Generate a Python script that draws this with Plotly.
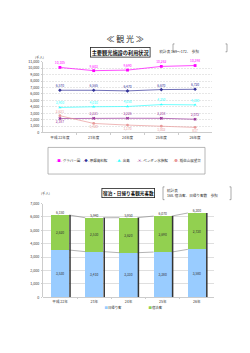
import plotly.graph_objects as go

# ---------------- data ----------------
years_top = ["平成 22年度", "23年度", "24年度", "25年度", "26年度"]
series_names = ["グラバー園", "原爆資料館", "出島", "ペンギン水族館", "稲佐山展望台"]
glover = [10105, 9603, 9690, 10262, 10398]
atomic = [6570, 6565, 6470, 6670, 6720]
dejima = [3900, 4010, 4050, 4350, 4300]
penguin = [2187, 2221, 2226, 2218, 2072]
inasa = [2621, 1420, 1170, 1002, 817]

years_bot = ["平成 22年", "23年", "24年", "25年", "26年"]
daytrip = [3530, 3410, 3330, 3380, 3580]
overnight = [2620, 2530, 2620, 2690, 2720]

# ---------------- helpers ----------------
W, H = 250, 353
S = 2  # render at 2x, then scale the page down (keeps tiny text tiny)
def px(x):
    return x / W
def py(y):
    return 1 - y / H
def f(sz):
    return sz * S

FONT = "Noto Sans CJK JP"
fig = go.Figure()

# ---------------- top line chart ----------------
top_series = [glover, atomic, dejima, penguin, inasa]
colors = ["#FF00FF", "#333399", "#33FFFF", "#993399", "#E89A9A"]
symbols = ["square", "diamond", "triangle-up", "x", "circle"]
positions = [
    ["top center"] * 5,
    ["top center"] * 5,
    ["top center"] * 5,
    ["bottom center"] + ["top center"] * 4,
    ["top center"] + ["bottom center"] * 4,
]
xi = list(range(len(years_top)))
for name, vals, c, s, pos in zip(series_names, top_series, colors, symbols, positions):
    fig.add_trace(go.Scatter(
        x=xi, y=vals, name=name, mode="lines+markers+text",
        line=dict(color=c, width=f(0.7)),
        marker=dict(color=c, symbol=s, size=f(2.8)),
        text=[f"{v:,}" for v in vals], textposition=pos,
        textfont=dict(size=f(3.3), color=c, family=FONT),
        xaxis="x", yaxis="y", showlegend=False, cliponaxis=False,
    ))

# ---------------- bottom stacked bars ----------------
bw = 0.53
totals = [a + b for a, b in zip(daytrip, overnight)]
for vals, name, col in [(daytrip, "日帰り客", "#99CCFF"), (overnight, "宿泊客", "#92D050")]:
    fig.add_trace(go.Bar(
        x=xi, y=vals, name=name, marker=dict(color=col, line=dict(width=0)),
        width=bw, text=[f"{v:,}" for v in vals], textposition="inside",
        insidetextanchor="middle", textangle=0,
        textfont=dict(size=f(3.3), color="#333333", family=FONT),
        xaxis="x2", yaxis="y2", showlegend=False,
    ))
# connector lines between stacks
for level in (daytrip, totals):
    cx, cy = [], []
    for i in range(len(xi) - 1):
        cx += [xi[i] + bw / 2, xi[i + 1] - bw / 2, None]
        cy += [level[i], level[i + 1], None]
    fig.add_trace(go.Scatter(x=cx, y=cy, mode="lines", line=dict(color="#808080", width=f(0.6)),
                             xaxis="x2", yaxis="y2", showlegend=False, hoverinfo="skip"))
# dark right edge of each bar
sx, sy = [], []
for i, t in zip(xi, totals):
    sx += [i + bw / 2 + 0.025, i + bw / 2 + 0.025, None]
    sy += [0, t, None]
fig.add_trace(go.Scatter(x=sx, y=sy, mode="lines", line=dict(color="#333333", width=f(1.5)),
                         xaxis="x2", yaxis="y2", showlegend=False, hoverinfo="skip"))
# totals above bars
fig.add_trace(go.Scatter(
    x=xi, y=totals, mode="text", text=[f"{v:,}" for v in totals],
    textposition="top center", textfont=dict(size=f(3.3), color="#333333", family=FONT),
    xaxis="x2", yaxis="y2", showlegend=False, cliponaxis=False,
))

# ---------------- layout ----------------
axis_font = dict(size=f(3.6), color="#333333", family=FONT)
common_x = dict(range=[-0.5, 4.5], tickmode="array", tickvals=xi, tickfont=axis_font,
                showgrid=False, showline=True, linecolor="#999999", linewidth=f(0.7),
                ticks="", zeroline=False, ticklabelstandoff=f(1),
                minor=dict(tickvals=[0.5, 1.5, 2.5, 3.5], ticks="outside", ticklen=f(1.5),
                           tickcolor="#999999", tickwidth=f(0.6)))
common_y = dict(tickformat=",", tickfont=axis_font, showgrid=True, showline=True,
                linecolor="#999999", linewidth=f(0.7), ticks="outside", ticklen=f(1.5),
                tickcolor="#999999", tickwidth=f(0.6), zeroline=False,
                ticklabelstandoff=f(1))
fig.update_layout(
    width=W * S, height=H * S, margin=dict(l=0, r=0, t=0, b=0),
    paper_bgcolor="white", plot_bgcolor="white",
    font=dict(family=FONT, size=f(4), color="#333333"),
    barmode="stack", showlegend=False,
    xaxis=dict(domain=[px(43), px(212)], anchor="y", ticktext=years_top, **common_x),
    yaxis=dict(domain=[py(132), py(60)], anchor="x", range=[0, 11000], dtick=1000,
               gridcolor="#D0D0D0", griddash="dot", gridwidth=f(0.5), **common_y),
    xaxis2=dict(domain=[px(43), px(214)], anchor="y2", ticktext=years_bot, **common_x),
    yaxis2=dict(domain=[py(299), py(204)], anchor="x2", range=[0, 7000], dtick=1000,
                gridcolor="#BFBFBF", gridwidth=f(0.7), **common_y),
)

ann = []
def note(x, y, text, size, **kw):
    d = dict(x=px(x), y=py(y), xref="paper", yref="paper", text=text, showarrow=False,
             font=dict(size=f(size), color=kw.pop("color", "#333333"), family=FONT))
    d.update(kw)
    ann.append(d)

note(125, 29, "≪ 観 光 ≫", 8)
note(120, 45, "<b>主要観光施設の利用状況</b>", 5.2, color="#111111",
     bordercolor="#222222", borderwidth=f(0.8), borderpad=f(0.8), bgcolor="white")
note(128, 193, "<b>宿泊・日帰り客観光客数</b>", 4.6, color="#111111",
     bordercolor="#222222", borderwidth=f(0.8), borderpad=f(0.8), bgcolor="white")
note(200, 46, "統計表 169〜172、  参照", 3.6)
note(166, 193, "統計表<br>168. 宿泊客、日帰り客数　参照", 3.6, xanchor="left", align="left")
note(34, 52, "(千人)", 3.3)
note(40, 193, "(千人)", 3.3)
# top legend entries
leg_x = [55, 82, 115, 136, 172]
sym_chars = ["■", "◆", "▲", "✕", "●"]
for lx, name, c, ch in zip(leg_x, series_names, colors, sym_chars):
    note(lx, 160, f"<span style='color:{c}'>-{ch}-</span> {name}", 3.5, xanchor="left")
# bottom legend entries
for lx, name, c in [(104, "日帰り客", "#99CCFF"), (148, "宿泊客", "#92D050")]:
    note(lx, 312, f"<span style='color:{c}'>■</span>{name}", 3.4, xanchor="left",
         borderpad=0)
fig.update_layout(annotations=ann)

shapes = [dict(type="rect", xref="paper", yref="paper", x0=px(48), x1=px(205),
               y0=py(174), y1=py(147), line=dict(color="#999999", width=f(0.7)))]
def bracket(x0, x1, y0, y1):
    d = 1.5
    left = f"M {px(x0+d)} {py(y0)} L {px(x0)} {py(y0)} L {px(x0)} {py(y1)} L {px(x0+d)} {py(y1)}"
    right = f"M {px(x1-d)} {py(y0)} L {px(x1)} {py(y0)} L {px(x1)} {py(y1)} L {px(x1-d)} {py(y1)}"
    return [dict(type="path", xref="paper", yref="paper", path=p,
                 line=dict(color="#555555", width=f(0.5))) for p in (left, right)]
shapes += bracket(173, 227, 42, 50)
shapes += bracket(163, 231, 187, 200)
fig.update_layout(shapes=shapes)

post = (
    "var d=document.getElementById('{plot_id}');"
    "d.style.transform='scale(%s)';d.style.transformOrigin='0 0';"
    "document.documentElement.style.overflow='hidden';"
    "document.body.style.overflow='hidden';document.body.style.margin='0';" % (1 / S)
)
fig.write_html("out.html", post_script=post)
